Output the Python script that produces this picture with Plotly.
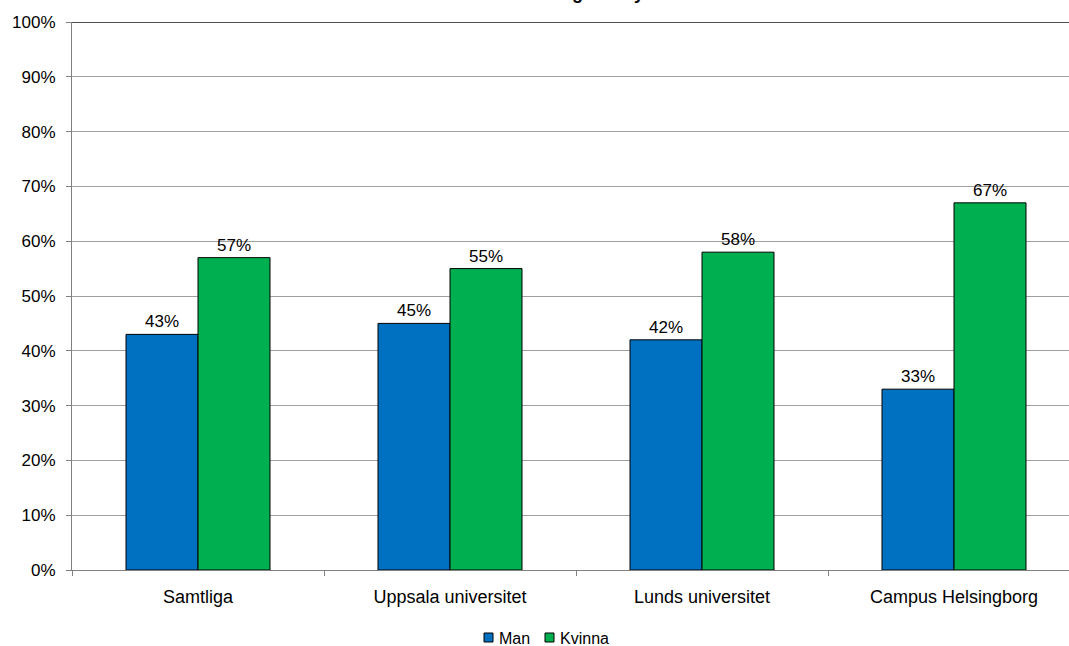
import plotly.graph_objects as go

categories = ["Samtliga", "Uppsala universitet", "Lunds universitet", "Campus Helsingborg"]
series_names = ["Man", "Kvinna"]
man = [0.43, 0.45, 0.42, 0.33]
kvinna = [0.57, 0.55, 0.58, 0.67]
colors = ["#0070C0", "#00B050"]
title_text = "Könsfördelning i analysen"

W, H = 1069, 646
L, T, B = 72, 22, 76
cat_px = 252.0
plot_w = W - L
plot_h = H - T - B
x_max = -0.5 + plot_w / cat_px

font = "Liberation Sans, Arial, sans-serif"
FS = 17

fig = go.Figure()
for name, vals, col in zip(series_names, [man, kvinna], colors):
    fig.add_trace(go.Bar(
        x=categories, y=vals, name=name, showlegend=False,
        marker=dict(color=col, line=dict(color="black", width=1)),
        texttemplate="%{y:.0%}", textposition="outside",
        textfont=dict(family=font, size=FS, color="black"), cliponaxis=False,
    ))

# dark top border of plot area
fig.add_shape(type="line", xref="paper", yref="y", x0=0, x1=1, y0=1, y1=1,
              line=dict(color="#505050", width=2), layer="above")

# pixel -> paper helpers
def px_x(px):
    return (px - L) / plot_w

def px_y(py):
    return (T + plot_h - py) / plot_h

# title, mostly above the visible page (only descenders show, as in the reference)
fig.add_annotation(text="<b>" + title_text + "</b>", xref="paper", yref="paper",
                   x=px_x(562), y=px_y(5), xanchor="center", yanchor="bottom",
                   showarrow=False, font=dict(family=font, size=18, color="black"))

# custom legend (square + label)
legend_items = [(484, 497), (545, 558)]  # square left x, text left x
for (sq_x, tx_x), name, col in zip(legend_items, series_names, colors):
    fig.add_shape(type="rect", xref="paper", yref="paper",
                  x0=px_x(sq_x), x1=px_x(sq_x + 9), y0=px_y(642), y1=px_y(633),
                  fillcolor=col, line=dict(color="black", width=1))
    fig.add_annotation(text=name, xref="paper", yref="paper",
                       x=px_x(tx_x), y=px_y(638), xanchor="left", yanchor="middle",
                       showarrow=False, font=dict(family=font, size=16, color="black"))

fig.update_layout(
    width=W, height=H,
    margin=dict(l=L, r=0, t=T, b=B, pad=0),
    paper_bgcolor="white", plot_bgcolor="white",
    barmode="group", bargap=1 - 144 / 252, bargroupgap=0,
    font=dict(family=font, size=FS, color="black"),
    showlegend=False,
    xaxis=dict(type="category", range=[-0.5, x_max], tickson="boundaries",
               ticks="outside", ticklen=5, tickcolor="#808080",
               showline=True, linecolor="#808080", linewidth=1,
               showgrid=False, ticklabelstandoff=10,
               tickfont=dict(family=font, size=18, color="black")),
    yaxis=dict(range=[0, 1], dtick=0.1, tickformat=".0%",
               ticks="outside", ticklen=5, tickcolor="#808080",
               showline=True, linecolor="#808080", linewidth=1,
               showgrid=True, gridcolor="#A0A0A0", gridwidth=1,
               zeroline=False, ticklabelstandoff=7,
               tickfont=dict(family=font, size=FS, color="black")),
)

fig.write_html("out.html", config={"displayModeBar": False},
               post_script="document.body.style.margin='0px';document.body.style.overflow='hidden';")
